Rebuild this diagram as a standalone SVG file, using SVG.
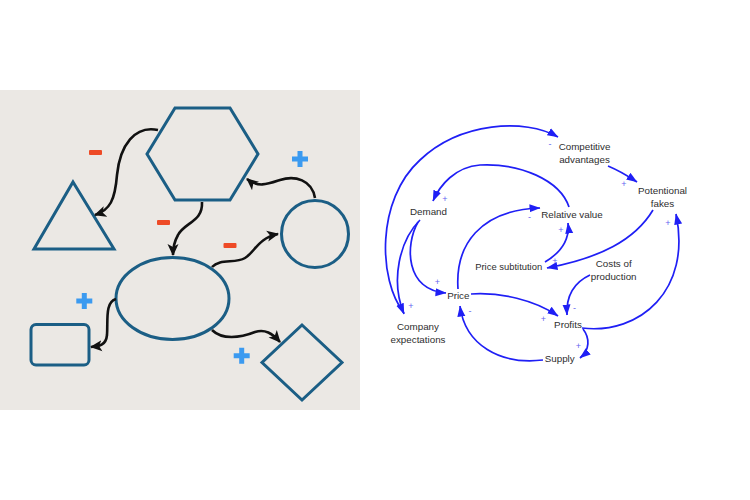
<svg xmlns="http://www.w3.org/2000/svg" width="750" height="500" viewBox="0 0 750 500">
<style>
.shape{fill:none;stroke:#1b5e85;stroke-width:3}
.bl{fill:none;stroke:#111;stroke-width:2.6;marker-end:url(#ah)}
.cl{fill:none;stroke:#1f1ff5;stroke-width:1.7;marker-end:url(#bh)}
.lbl{font-family:"Liberation Sans",Arial,sans-serif;font-size:9.8px;fill:#2e2e2e;text-anchor:middle}
.sg{font-family:"Liberation Sans",Arial,sans-serif;font-size:9px;fill:#6464f0;text-anchor:middle}
.minus{fill:#ee4a26}
.plus{fill:#3b9af0}
</style>
<defs>
<marker id="ah" markerUnits="userSpaceOnUse" markerWidth="12" markerHeight="12" viewBox="0 0 12 12" refX="11" refY="6" orient="auto">
<path d="M0,0.5 L12,6 L0,11.5 L3,6 z" fill="#111"/>
</marker>
<marker id="bh" markerUnits="userSpaceOnUse" markerWidth="11" markerHeight="9" viewBox="0 0 11 9" refX="10.5" refY="4.5" orient="auto">
<path d="M0,0.5 L11,4.5 L0,8.5 z" fill="#1f1ff5"/>
</marker>
</defs>
<rect width="750" height="500" fill="#fff"/>
<rect x="0" y="90" width="360" height="320" fill="#ebe8e4"/>

<g id="hexagon"><polygon class="shape" points="175,108 230,108 258,154 230,200 175,200 147,154"/></g>
<g id="triangle"><polygon class="shape" points="73,182 114,249 34,249"/></g>
<g id="circle"><circle class="shape" cx="315" cy="234" r="33.5"/></g>
<g id="ellipse"><ellipse class="shape" cx="172.5" cy="298.5" rx="56.5" ry="41"/></g>
<g id="rect"><rect class="shape" x="31" y="324.5" width="58" height="40.5" rx="5"/></g>
<g id="diamond"><polygon class="shape" points="302,325 342,362.5 302,400 262,362.5"/></g>

<g id="signs-left">
<rect class="minus" x="89" y="150" width="13" height="5" rx="1"/>
<rect class="minus" x="157" y="220" width="13" height="5" rx="1"/>
<rect class="minus" x="223.5" y="243" width="13" height="5" rx="1"/>
<path class="plus" d="M297.5,151 h5 v5.5 h5.5 v5 h-5.5 v5.5 h-5 v-5.5 h-5.5 v-5 h5.5 z"/>
<path class="plus" d="M81.8,293 h5 v5.5 h5.5 v5 h-5.5 v5.5 h-5 v-5.5 h-5.5 v-5 h5.5 z"/>
<path class="plus" d="M239.2,347.7 h5 v5.5 h5.5 v5 h-5.5 v5.5 h-5 v-5.5 h-5.5 v-5 h5.5 z"/>
</g>

<g id="connectors-left">
<path class="bl" d="M158,130 C135,125 120,145 117,175 C115,200 110,210 95,215"/>
<path class="bl" d="M202,202 C203,222 185,222 178,235 C174,242 173,248 173,255"/>
<path class="bl" d="M315,198 C312,180 295,175 280,180 C268,184 258,188 247,179"/>
<path class="bl" d="M212,267 C220,258 235,264 245,258 C255,252 258,238 278,234"/>
<path class="bl" d="M116,299 C105,302 108,320 107,335 C106,345 100,346 91,347"/>
<path class="bl" d="M212,330 C222,340 240,338 255,332 C265,329 272,333 280,342"/>
</g>

<g id="connectors-right">
<path class="cl" d="M404,313 C378,280 376,200 420,160 C460,122 525,118 558,137"/>
<path class="cl" d="M569,207 C560,180 520,163 480,165 C455,167 440,185 433,201"/>
<path class="cl" d="M608,166 C620,171 628,176 637,182"/>
<path class="cl" d="M653,210 C635,240 600,258 547,268"/>
<path class="cl" d="M582,328 C640,335 692,290 676,214"/>
<path class="cl" d="M545,262 C560,253 570,240 568,223"/>
<path class="cl" d="M458,289 C455,245 480,210 540,208"/>
<path class="cl" d="M420,220 C400,240 390,280 404,314"/>
<path class="cl" d="M418,222 C405,245 405,290 446,293"/>
<path class="cl" d="M471,294 C500,292 535,300 558,316"/>
<path class="cl" d="M590,275 C575,282 566,295 567,315"/>
<path class="cl" d="M583,329 C590,338 590,350 580,358"/>
<path class="cl" d="M543,360 C500,365 465,345 460,306"/>
</g>

<g id="signs-right">
<text class="sg" x="550" y="147">-</text>
<text class="sg" x="445" y="202">+</text>
<text class="sg" x="529.5" y="220">-</text>
<text class="sg" x="624" y="187">+</text>
<text class="sg" x="668" y="225.5">+</text>
<text class="sg" x="561" y="233">+</text>
<text class="sg" x="555" y="264">+</text>
<text class="sg" x="437.5" y="285">+</text>
<text class="sg" x="411" y="308.5">+</text>
<text class="sg" x="470" y="314">-</text>
<text class="sg" x="543.5" y="322">+</text>
<text class="sg" x="574.5" y="310.5">-</text>
<text class="sg" x="578.5" y="349">+</text>
</g>

<g id="competitive"><text class="lbl" x="584.5" y="149.5">Competitive</text><text class="lbl" x="584.5" y="162.5">advantages</text></g>
<g id="fakes"><text class="lbl" x="662.5" y="194">Potentional</text><text class="lbl" x="662.5" y="206.5">fakes</text></g>
<g id="demand"><text class="lbl" x="428.5" y="214.5">Demand</text></g>
<g id="relative"><text class="lbl" x="572" y="217.5">Relative value</text></g>
<g id="subtitution"><text class="lbl" x="508.7" y="270" textLength="67" lengthAdjust="spacingAndGlyphs">Price subtitution</text></g>
<g id="costs"><text class="lbl" x="613.7" y="266.5">Costs of</text><text class="lbl" x="613.7" y="279.5">production</text></g>
<g id="price"><text class="lbl" x="458.3" y="298.5">Price</text></g>
<g id="profits"><text class="lbl" x="568" y="327.5">Profits</text></g>
<g id="supply"><text class="lbl" x="559.7" y="361.5">Supply</text></g>
<g id="company"><text class="lbl" x="418" y="330">Company</text><text class="lbl" x="418" y="342.5">expectations</text></g>
</svg>
